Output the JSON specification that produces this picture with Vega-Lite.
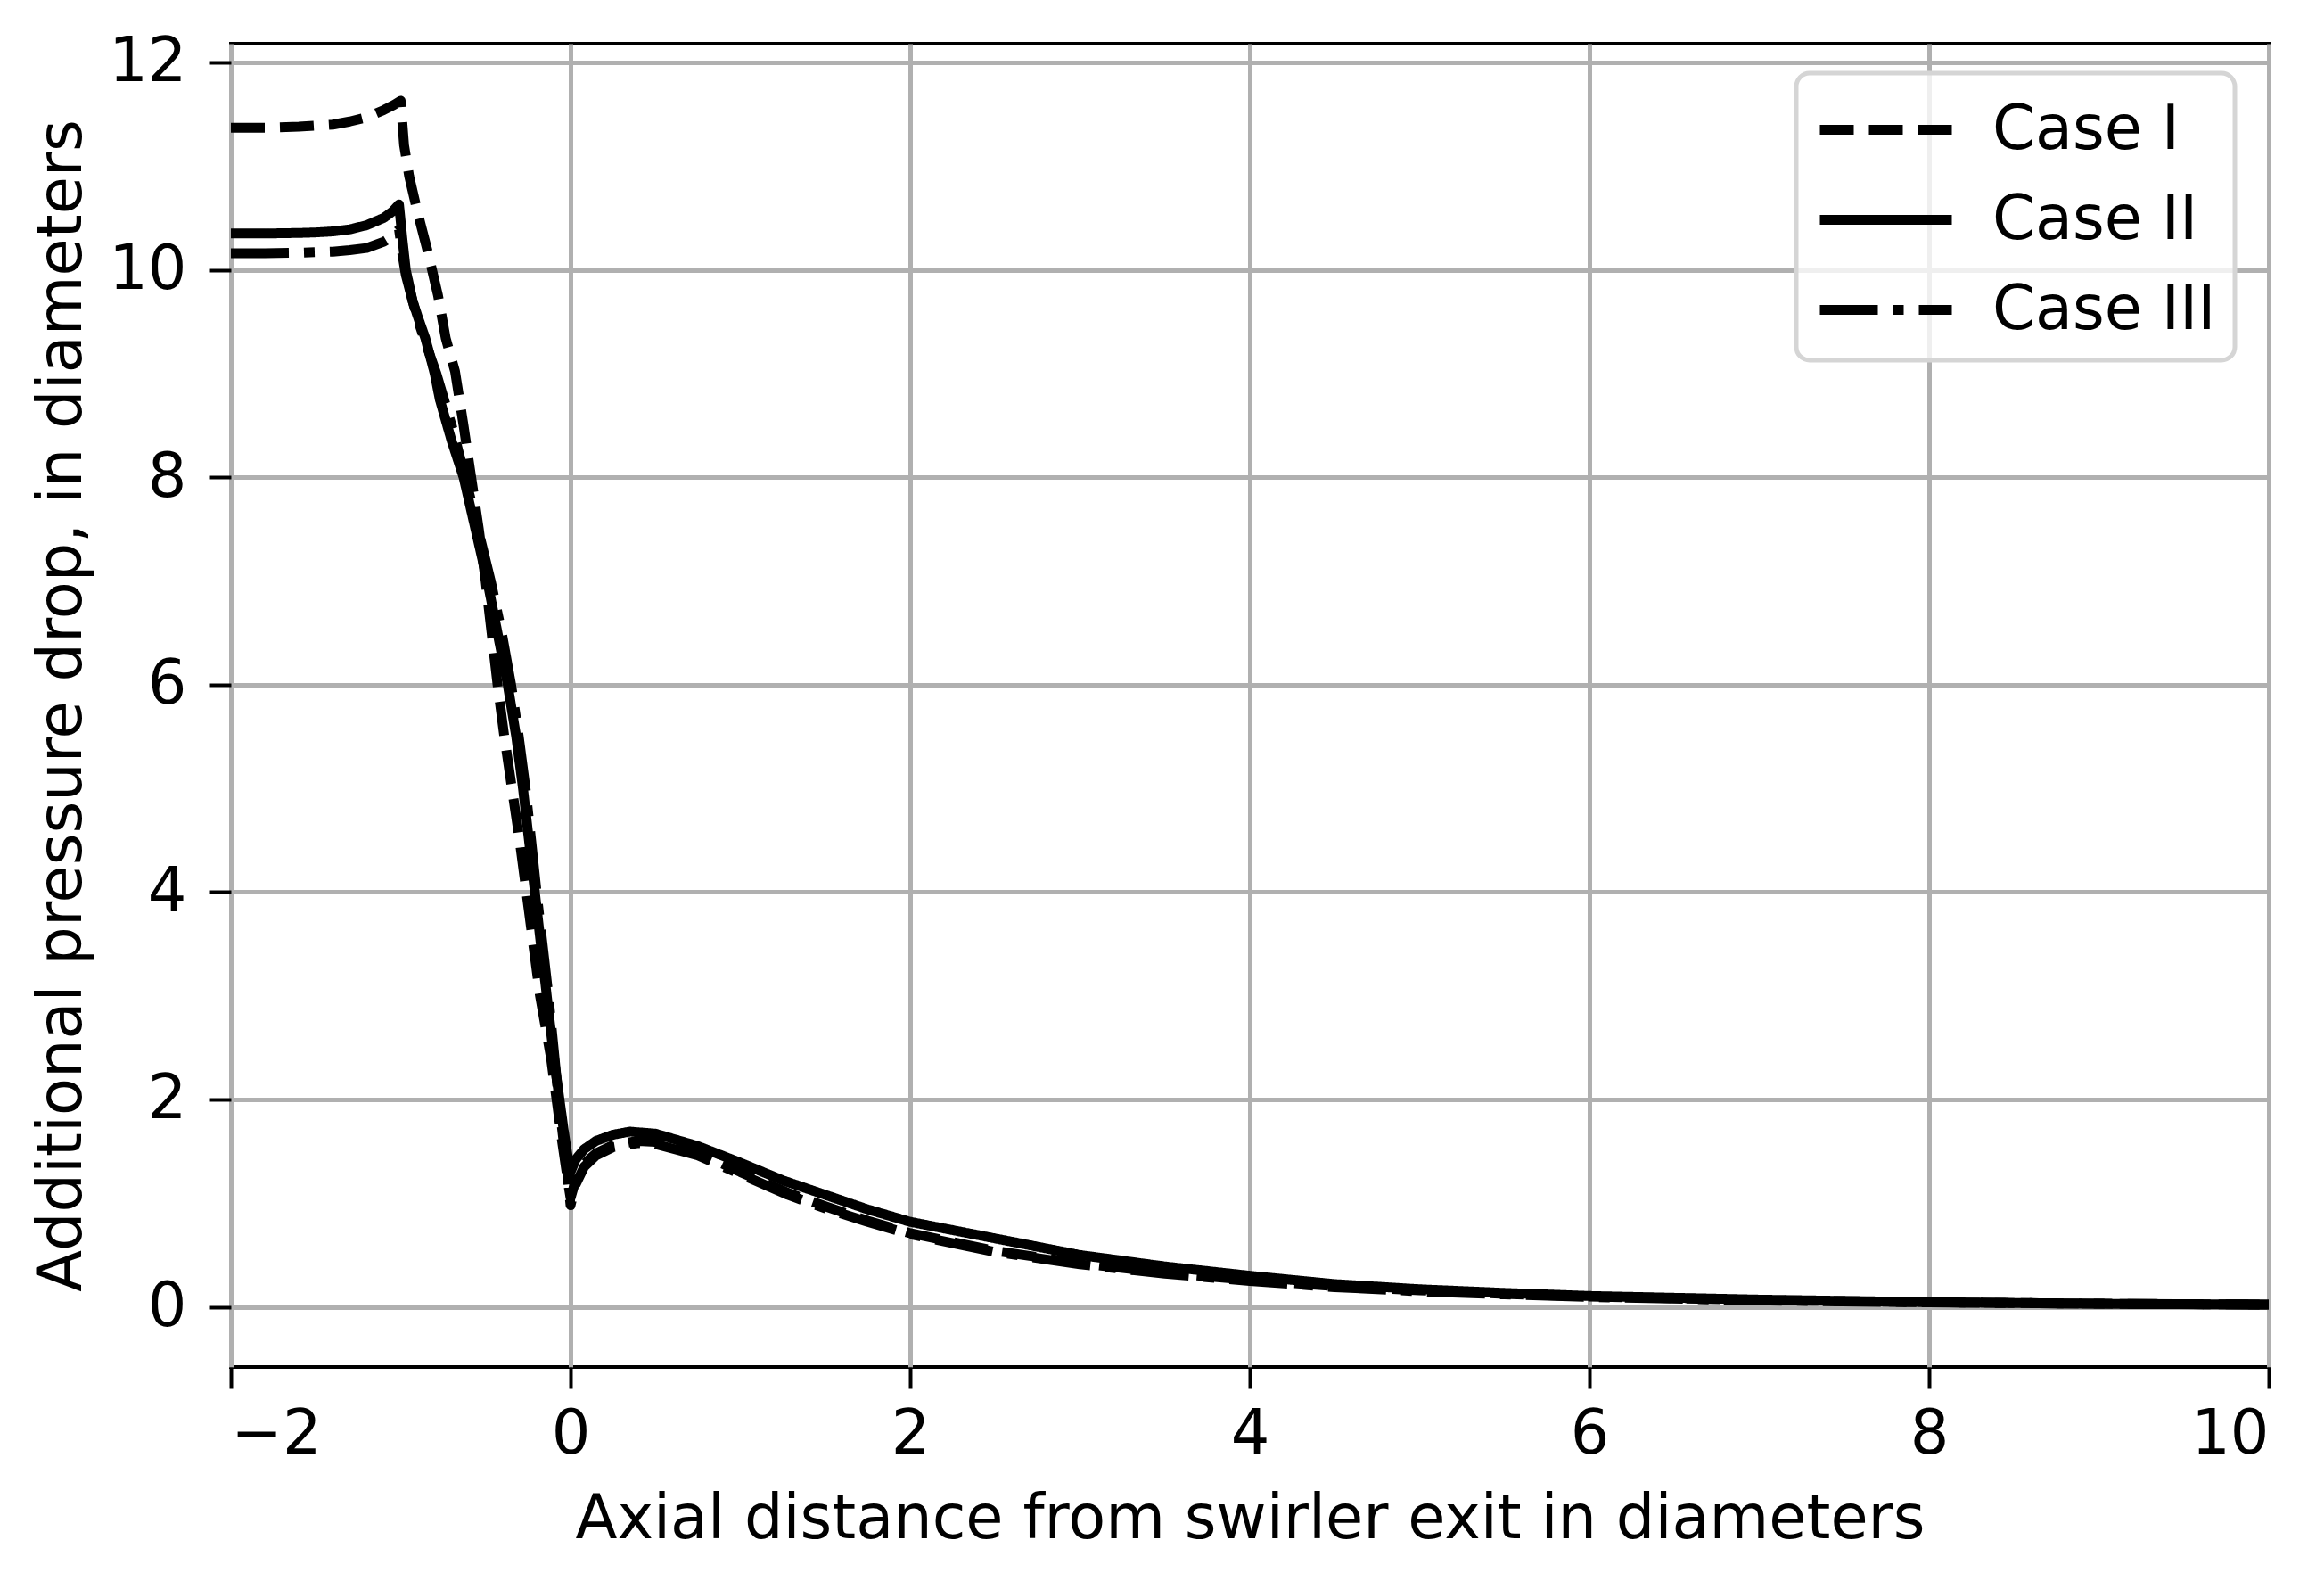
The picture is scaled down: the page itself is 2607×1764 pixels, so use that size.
{
  "$schema": "https://vega.github.io/schema/vega-lite/v6.json",
  "width": 2286,
  "height": 1484,
  "autosize": {"type": "none"},
  "padding": {"left": 259, "top": 49, "right": 62, "bottom": 231},
  "background": "white",
  "data": {
    "values": [
      {"x": -2, "y": 11.37, "case": "Case I"},
      {"x": -1.8, "y": 11.37, "case": "Case I"},
      {"x": -1.6, "y": 11.38, "case": "Case I"},
      {"x": -1.5, "y": 11.39, "case": "Case I"},
      {"x": -1.4, "y": 11.4, "case": "Case I"},
      {"x": -1.3, "y": 11.43, "case": "Case I"},
      {"x": -1.2, "y": 11.47, "case": "Case I"},
      {"x": -1.1, "y": 11.54, "case": "Case I"},
      {"x": -1.04, "y": 11.59, "case": "Case I"},
      {"x": -1.0, "y": 11.63, "case": "Case I"},
      {"x": -0.98, "y": 11.2, "case": "Case I"},
      {"x": -0.95, "y": 10.9, "case": "Case I"},
      {"x": -0.9, "y": 10.55, "case": "Case I"},
      {"x": -0.84, "y": 10.17, "case": "Case I"},
      {"x": -0.78, "y": 9.75, "case": "Case I"},
      {"x": -0.735, "y": 9.34, "case": "Case I"},
      {"x": -0.68, "y": 9.02, "case": "Case I"},
      {"x": -0.63, "y": 8.5, "case": "Case I"},
      {"x": -0.585, "y": 8.0, "case": "Case I"},
      {"x": -0.54, "y": 7.5, "case": "Case I"},
      {"x": -0.5, "y": 7.0, "case": "Case I"},
      {"x": -0.465, "y": 6.5, "case": "Case I"},
      {"x": -0.43, "y": 6.0, "case": "Case I"},
      {"x": -0.39, "y": 5.5, "case": "Case I"},
      {"x": -0.345, "y": 5.0, "case": "Case I"},
      {"x": -0.3, "y": 4.5, "case": "Case I"},
      {"x": -0.26, "y": 4.0, "case": "Case I"},
      {"x": -0.22, "y": 3.5, "case": "Case I"},
      {"x": -0.18, "y": 3.0, "case": "Case I"},
      {"x": -0.115, "y": 2.4, "case": "Case I"},
      {"x": -0.05, "y": 1.6, "case": "Case I"},
      {"x": -0.01, "y": 1.15, "case": "Case I"},
      {"x": 0, "y": 1.05, "case": "Case I"},
      {"x": 0.03, "y": 1.22, "case": "Case I"},
      {"x": 0.08, "y": 1.38, "case": "Case I"},
      {"x": 0.15, "y": 1.48, "case": "Case I"},
      {"x": 0.25, "y": 1.56, "case": "Case I"},
      {"x": 0.4, "y": 1.6, "case": "Case I"},
      {"x": 0.5, "y": 1.59, "case": "Case I"},
      {"x": 0.75, "y": 1.49, "case": "Case I"},
      {"x": 1.0, "y": 1.3, "case": "Case I"},
      {"x": 1.28, "y": 1.1, "case": "Case I"},
      {"x": 1.5, "y": 0.97, "case": "Case I"},
      {"x": 1.75, "y": 0.83, "case": "Case I"},
      {"x": 2.0, "y": 0.71, "case": "Case I"},
      {"x": 2.5, "y": 0.54, "case": "Case I"},
      {"x": 3.0, "y": 0.42, "case": "Case I"},
      {"x": 3.5, "y": 0.33, "case": "Case I"},
      {"x": 4.0, "y": 0.26, "case": "Case I"},
      {"x": 4.5, "y": 0.2, "case": "Case I"},
      {"x": 5.0, "y": 0.16, "case": "Case I"},
      {"x": 5.5, "y": 0.125, "case": "Case I"},
      {"x": 6, "y": 0.1, "case": "Case I"},
      {"x": 7, "y": 0.065, "case": "Case I"},
      {"x": 8, "y": 0.045, "case": "Case I"},
      {"x": 9, "y": 0.03, "case": "Case I"},
      {"x": 10, "y": 0.022, "case": "Case I"},

      {"x": -2, "y": 10.35, "case": "Case II"},
      {"x": -1.8, "y": 10.35, "case": "Case II"},
      {"x": -1.6, "y": 10.355, "case": "Case II"},
      {"x": -1.5, "y": 10.36, "case": "Case II"},
      {"x": -1.4, "y": 10.37, "case": "Case II"},
      {"x": -1.3, "y": 10.39, "case": "Case II"},
      {"x": -1.2, "y": 10.43, "case": "Case II"},
      {"x": -1.1, "y": 10.5, "case": "Case II"},
      {"x": -1.05, "y": 10.56, "case": "Case II"},
      {"x": -1.01, "y": 10.63, "case": "Case II"},
      {"x": -0.99, "y": 10.3, "case": "Case II"},
      {"x": -0.97, "y": 10.0, "case": "Case II"},
      {"x": -0.93, "y": 9.7, "case": "Case II"},
      {"x": -0.9, "y": 9.55, "case": "Case II"},
      {"x": -0.855, "y": 9.34, "case": "Case II"},
      {"x": -0.8, "y": 9.0, "case": "Case II"},
      {"x": -0.77, "y": 8.75, "case": "Case II"},
      {"x": -0.7, "y": 8.35, "case": "Case II"},
      {"x": -0.63, "y": 8.0, "case": "Case II"},
      {"x": -0.56, "y": 7.5, "case": "Case II"},
      {"x": -0.49, "y": 7.0, "case": "Case II"},
      {"x": -0.43, "y": 6.5, "case": "Case II"},
      {"x": -0.37, "y": 6.0, "case": "Case II"},
      {"x": -0.32, "y": 5.5, "case": "Case II"},
      {"x": -0.28, "y": 5.0, "case": "Case II"},
      {"x": -0.245, "y": 4.5, "case": "Case II"},
      {"x": -0.21, "y": 4.0, "case": "Case II"},
      {"x": -0.175, "y": 3.5, "case": "Case II"},
      {"x": -0.14, "y": 3.0, "case": "Case II"},
      {"x": -0.09, "y": 2.3, "case": "Case II"},
      {"x": -0.04, "y": 1.7, "case": "Case II"},
      {"x": -0.01, "y": 1.38, "case": "Case II"},
      {"x": 0, "y": 1.3, "case": "Case II"},
      {"x": 0.03, "y": 1.42, "case": "Case II"},
      {"x": 0.08, "y": 1.52, "case": "Case II"},
      {"x": 0.15, "y": 1.6, "case": "Case II"},
      {"x": 0.25, "y": 1.66, "case": "Case II"},
      {"x": 0.35, "y": 1.69, "case": "Case II"},
      {"x": 0.5, "y": 1.67, "case": "Case II"},
      {"x": 0.75, "y": 1.55, "case": "Case II"},
      {"x": 1.0, "y": 1.39, "case": "Case II"},
      {"x": 1.25, "y": 1.22, "case": "Case II"},
      {"x": 1.5, "y": 1.08, "case": "Case II"},
      {"x": 1.75, "y": 0.94, "case": "Case II"},
      {"x": 2.0, "y": 0.82, "case": "Case II"},
      {"x": 2.5, "y": 0.66, "case": "Case II"},
      {"x": 3.0, "y": 0.5, "case": "Case II"},
      {"x": 3.5, "y": 0.39, "case": "Case II"},
      {"x": 4.0, "y": 0.3, "case": "Case II"},
      {"x": 4.5, "y": 0.22, "case": "Case II"},
      {"x": 5.0, "y": 0.17, "case": "Case II"},
      {"x": 5.5, "y": 0.135, "case": "Case II"},
      {"x": 6, "y": 0.105, "case": "Case II"},
      {"x": 7, "y": 0.07, "case": "Case II"},
      {"x": 8, "y": 0.045, "case": "Case II"},
      {"x": 9, "y": 0.03, "case": "Case II"},
      {"x": 10, "y": 0.022, "case": "Case II"},

      {"x": -2, "y": 10.16, "case": "Case III"},
      {"x": -1.8, "y": 10.16, "case": "Case III"},
      {"x": -1.6, "y": 10.165, "case": "Case III"},
      {"x": -1.5, "y": 10.17, "case": "Case III"},
      {"x": -1.4, "y": 10.175, "case": "Case III"},
      {"x": -1.3, "y": 10.19, "case": "Case III"},
      {"x": -1.2, "y": 10.21, "case": "Case III"},
      {"x": -1.1, "y": 10.27, "case": "Case III"},
      {"x": -1.05, "y": 10.32, "case": "Case III"},
      {"x": -1.01, "y": 10.39, "case": "Case III"},
      {"x": -0.99, "y": 10.15, "case": "Case III"},
      {"x": -0.97, "y": 9.95, "case": "Case III"},
      {"x": -0.93, "y": 9.7, "case": "Case III"},
      {"x": -0.9, "y": 9.52, "case": "Case III"},
      {"x": -0.85, "y": 9.28, "case": "Case III"},
      {"x": -0.79, "y": 9.0, "case": "Case III"},
      {"x": -0.7, "y": 8.5, "case": "Case III"},
      {"x": -0.62, "y": 8.0, "case": "Case III"},
      {"x": -0.545, "y": 7.5, "case": "Case III"},
      {"x": -0.47, "y": 7.0, "case": "Case III"},
      {"x": -0.405, "y": 6.5, "case": "Case III"},
      {"x": -0.35, "y": 6.0, "case": "Case III"},
      {"x": -0.305, "y": 5.5, "case": "Case III"},
      {"x": -0.265, "y": 5.0, "case": "Case III"},
      {"x": -0.232, "y": 4.5, "case": "Case III"},
      {"x": -0.2, "y": 4.0, "case": "Case III"},
      {"x": -0.165, "y": 3.5, "case": "Case III"},
      {"x": -0.13, "y": 3.0, "case": "Case III"},
      {"x": -0.07, "y": 2.0, "case": "Case III"},
      {"x": -0.02, "y": 1.3, "case": "Case III"},
      {"x": 0, "y": 0.98, "case": "Case III"},
      {"x": 0.03, "y": 1.18, "case": "Case III"},
      {"x": 0.08, "y": 1.35, "case": "Case III"},
      {"x": 0.15, "y": 1.46, "case": "Case III"},
      {"x": 0.25, "y": 1.54, "case": "Case III"},
      {"x": 0.4, "y": 1.58, "case": "Case III"},
      {"x": 0.5, "y": 1.57, "case": "Case III"},
      {"x": 0.75, "y": 1.46, "case": "Case III"},
      {"x": 1.0, "y": 1.28, "case": "Case III"},
      {"x": 1.28, "y": 1.08, "case": "Case III"},
      {"x": 1.5, "y": 0.95, "case": "Case III"},
      {"x": 1.75, "y": 0.82, "case": "Case III"},
      {"x": 2.0, "y": 0.7, "case": "Case III"},
      {"x": 2.5, "y": 0.53, "case": "Case III"},
      {"x": 3.0, "y": 0.41, "case": "Case III"},
      {"x": 3.5, "y": 0.32, "case": "Case III"},
      {"x": 4.0, "y": 0.25, "case": "Case III"},
      {"x": 4.5, "y": 0.19, "case": "Case III"},
      {"x": 5.0, "y": 0.15, "case": "Case III"},
      {"x": 5.5, "y": 0.12, "case": "Case III"},
      {"x": 6, "y": 0.095, "case": "Case III"},
      {"x": 7, "y": 0.062, "case": "Case III"},
      {"x": 8, "y": 0.043, "case": "Case III"},
      {"x": 9, "y": 0.03, "case": "Case III"},
      {"x": 10, "y": 0.022, "case": "Case III"}
    ]
  },
  "mark": {"type": "line", "color": "black", "strokeWidth": 11, "strokeJoin": "round", "strokeCap": "butt", "clip": true},
  "encoding": {
    "x": {
      "field": "x",
      "type": "quantitative",
      "title": "Axial distance from swirler exit in diameters",
      "scale": {"domain": [-2, 10], "nice": false, "zero": false},
      "axis": {"values": [-2, 0, 2, 4, 6, 8, 10], "labelPadding": 18, "titlePadding": 28}
    },
    "y": {
      "field": "y",
      "type": "quantitative",
      "title": "Additional pressure drop, in diameters",
      "scale": {"domain": [-0.58, 12.18], "nice": false, "zero": false},
      "axis": {"values": [0, 2, 4, 6, 8, 10, 12], "labelPadding": 26, "titlePadding": 17}
    },
    "strokeDash": {
      "field": "case",
      "type": "nominal",
      "title": null,
      "scale": {
        "domain": ["Case I", "Case II", "Case III"],
        "range": [[38, 17], [1, 0], [65, 17, 12, 17]]
      },
      "legend": {
        "orient": "none",
        "legendX": 1756,
        "legendY": 33,
        "symbolType": "M-1,0H3",
        "symbolSize": 5476,
        "symbolStrokeWidth": 11,
        "symbolStrokeColor": "black",
        "labelFontSize": 68.6,
        "labelFont": "DejaVu Sans",
        "labelColor": "black",
        "labelLimit": 1000,
        "labelOffset": 114,
        "padding": 21,
        "rowPadding": 23,
        "cornerRadius": 15,
        "fillColor": "rgba(255,255,255,0.8)",
        "strokeColor": "#d5d5d5",
        "encode": {"legend": {"update": {"strokeWidth": {"value": 5}}}}
      }
    }
  },
  "config": {
    "font": "DejaVu Sans",
    "view": {"stroke": "black", "strokeWidth": 4},
    "axis": {
      "domain": false,
      "labelFont": "DejaVu Sans",
      "labelFontSize": 68.6,
      "labelColor": "black",
      "titleFont": "DejaVu Sans",
      "titleFontSize": 68.6,
      "titleFontWeight": "normal",
      "titleColor": "black",
      "tickColor": "black",
      "tickWidth": 4,
      "tickSize": 24,
      "grid": true,
      "gridColor": "#b0b0b0",
      "gridWidth": 5
    }
  }
}
